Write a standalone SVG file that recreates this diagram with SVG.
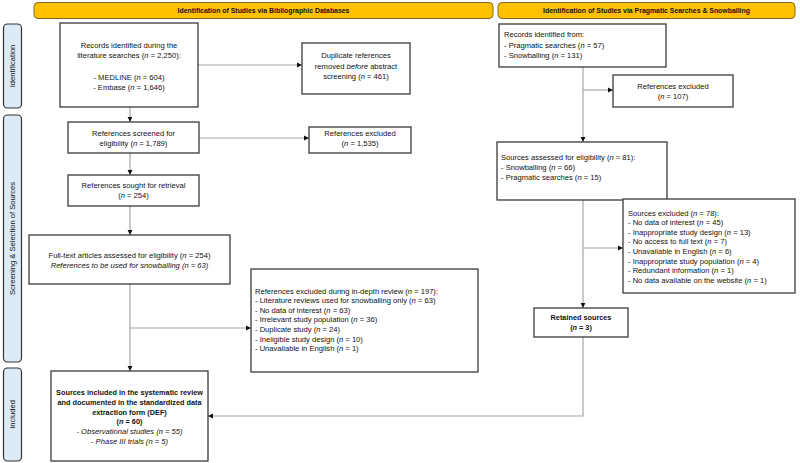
<svg xmlns="http://www.w3.org/2000/svg" width="800" height="463" viewBox="0 0 800 463">
<defs>
<marker id="arr" markerUnits="userSpaceOnUse" markerWidth="6" markerHeight="6" refX="5" refY="3" orient="auto">
<path d="M0,0.6 L5,3 L0,5.4 Z" fill="#111"/>
</marker>
<style>
text{font-family:"Liberation Sans",Arial,sans-serif;font-size:7.6px;fill:#111}
.c{text-anchor:middle}
.b{font-weight:bold;font-size:7.3px}
.i{font-style:italic}
.hdr{fill:#FFC000;stroke:#7f6a1a;stroke-width:1}
.hdrt{font-weight:bold;font-size:6.9px;text-anchor:middle}
.side{fill:#DDEBF7;stroke:#333;stroke-width:1.2}
.sidet{font-size:7.6px;text-anchor:middle}
.box{fill:#fff;stroke:#3a3a3a;stroke-width:1.3}
.con{fill:none;stroke:#a6a6a6;stroke-width:1.2}
.conA{fill:none;stroke:#a6a6a6;stroke-width:1.2;marker-end:url(#arr)}
</style>
</defs>
<rect width="800" height="463" fill="#fff"/>

<g id="header-left"><rect class="hdr" x="34" y="2.5" width="459" height="16" rx="4"/><text class="hdrt" x="263.5" y="13">Identification of Studies via Bibliographic Databases</text></g>
<g id="header-right"><rect class="hdr" x="498" y="2.5" width="297" height="16" rx="4"/><text class="hdrt" x="646.5" y="13">Identification of Studies via Pragmatic Searches &amp; Snowballing</text></g>

<g id="side-identification"><rect class="side" x="3.5" y="24" width="18" height="84" rx="4"/><text class="sidet" transform="translate(15,66) rotate(-90)">Identification</text></g>
<g id="side-screening"><rect class="side" x="3.5" y="115" width="18" height="247" rx="4"/><text class="sidet" transform="translate(15,238.5) rotate(-90)">Screening &amp; Selection of Sources</text></g>
<g id="side-included"><rect class="side" x="3.5" y="368" width="18" height="93" rx="4"/><text class="sidet" transform="translate(15,414.5) rotate(-90)">Included</text></g>

<g id="connectors">
<path class="conA" d="M198,65 H302"/>
<path class="conA" d="M130,107 V122"/>
<path class="conA" d="M199,138 H309"/>
<path class="conA" d="M130,153 V175"/>
<path class="conA" d="M130,206 V235"/>
<path class="conA" d="M130,284 V371"/>
<path class="conA" d="M130,328 H251"/>
<path class="conA" d="M583,67 V142"/>
<path class="conA" d="M583,90 H613"/>
<path class="conA" d="M583,200 V308"/>
<path class="conA" d="M583,248 H623"/>
<path class="conA" d="M583,337 V416 H208"/>
</g>

<g id="records-identified"><rect class="box" x="60" y="23" width="138" height="84"/>
<text class="c" x="129" y="47.5">Records identified during the</text>
<text class="c" x="129" y="58">literature searches (<tspan class="i">n</tspan> = 2,250):</text>
<text class="c" x="129" y="79.5">- MEDLINE (<tspan class="i">n</tspan> = 604)</text>
<text class="c" x="129" y="90">- Embase (<tspan class="i">n</tspan> = 1,646)</text>
</g>

<g id="duplicates-removed"><rect class="box" x="302" y="43" width="108" height="51"/>
<text class="c" x="356" y="58">Duplicate references</text>
<text class="c" x="356" y="68.5">removed <tspan class="i">before</tspan> abstract</text>
<text class="c" x="356" y="79">screening (<tspan class="i">n</tspan> = 461)</text>
</g>

<g id="references-screened"><rect class="box" x="68" y="122" width="131" height="31"/>
<text class="c" x="133.5" y="135.5">References screened for</text>
<text class="c" x="133.5" y="145.5">eligibility (<tspan class="i">n</tspan> = 1,789)</text>
</g>

<g id="references-excluded-1"><rect class="box" x="309" y="127" width="102" height="26"/>
<text class="c" x="360" y="136">References excluded</text>
<text class="c" x="360" y="146">(<tspan class="i">n</tspan> = 1,535)</text>
</g>

<g id="references-sought"><rect class="box" x="68" y="175" width="131" height="31"/>
<text class="c" x="133.5" y="188">References sought for retrieval</text>
<text class="c" x="133.5" y="198">(<tspan class="i">n</tspan> = 254)</text>
</g>

<g id="full-text"><rect class="box" x="29" y="235" width="201" height="49"/>
<text class="c" x="129.5" y="257.5">Full-text articles assessed for eligibility (<tspan class="i">n</tspan> = 254)</text>
<text class="c i" x="129.5" y="268">References to be used for snowballing (n = 63)</text>
</g>

<g id="excluded-in-depth"><rect class="box" x="251" y="269" width="227" height="103"/>
<text x="255" y="293.5">References excluded during in-depth review (<tspan class="i">n</tspan> = 197):</text>
<text x="255" y="303.1">- Literature reviews used for snowballing only (<tspan class="i">n</tspan> = 63)</text>
<text x="255" y="312.7">- No data of interest (<tspan class="i">n</tspan> = 63)</text>
<text x="255" y="322.3">- Irrelevant study population (<tspan class="i">n</tspan> = 36)</text>
<text x="255" y="331.9">- Duplicate study (<tspan class="i">n</tspan> = 24)</text>
<text x="255" y="341.5">- Ineligible study design (<tspan class="i">n</tspan> = 10)</text>
<text x="255" y="351.1">- Unavailable in English (<tspan class="i">n</tspan> = 1)</text>
</g>

<g id="sources-included"><rect class="box" x="51" y="371" width="157" height="90"/>
<text class="c b" x="129.5" y="395">Sources included in the systematic review</text>
<text class="c b" x="129.5" y="404.8">and documented in the standardized data</text>
<text class="c b" x="129.5" y="414.6">extraction form (DEF)</text>
<text class="c b" x="129.5" y="424.4">(<tspan class="i">n</tspan> = 60)</text>
<text class="c i" x="129.5" y="434.2">- Observational studies (n = 55)</text>
<text class="c i" x="129.5" y="444">- Phase III trials (n = 5)</text>
</g>

<g id="records-pragmatic"><rect class="box" x="499" y="24" width="167" height="43"/>
<text x="504" y="37">Records identified from:</text>
<text x="504" y="47.5">- Pragmatic searches (<tspan class="i">n</tspan> = 57)</text>
<text x="504" y="58">- Snowballing (<tspan class="i">n</tspan> = 131)</text>
</g>

<g id="references-excluded-2"><rect class="box" x="613" y="75" width="120" height="32"/>
<text class="c" x="673" y="88.5">References excluded</text>
<text class="c" x="673" y="98.5">(<tspan class="i">n</tspan> = 107)</text>
</g>

<g id="sources-assessed"><rect class="box" x="497" y="142" width="170" height="58"/>
<text x="501" y="159.5">Sources assessed for eligibility (<tspan class="i">n</tspan> = 81):</text>
<text x="501" y="169.5">- Snowballing (<tspan class="i">n</tspan> = 66)</text>
<text x="501" y="179.5">- Pragmatic searches (<tspan class="i">n</tspan> = 15)</text>
</g>

<g id="sources-excluded"><rect class="box" x="623" y="199" width="172" height="94"/>
<text x="628" y="215.5">Sources excluded (<tspan class="i">n</tspan> = 78):</text>
<text x="628" y="225.1">- No data of interest (<tspan class="i">n</tspan> = 45)</text>
<text x="628" y="234.7">- Inappropriate study design (<tspan class="i">n</tspan> = 13)</text>
<text x="628" y="244.3">- No access to full text (<tspan class="i">n</tspan> = 7)</text>
<text x="628" y="253.9">- Unavailable in English (<tspan class="i">n</tspan> = 6)</text>
<text x="628" y="263.5">- Inappropriate study population (<tspan class="i">n</tspan> = 4)</text>
<text x="628" y="273.1">- Redundant information (<tspan class="i">n</tspan> = 1)</text>
<text x="628" y="282.7">- No data available on the website (<tspan class="i">n</tspan> = 1)</text>
</g>

<g id="retained-sources"><rect class="box" x="534" y="308" width="94" height="29"/>
<text class="c b" x="581" y="320">Retained sources</text>
<text class="c b" x="581" y="330">(<tspan class="i">n</tspan> = 3)</text>
</g>
</svg>
